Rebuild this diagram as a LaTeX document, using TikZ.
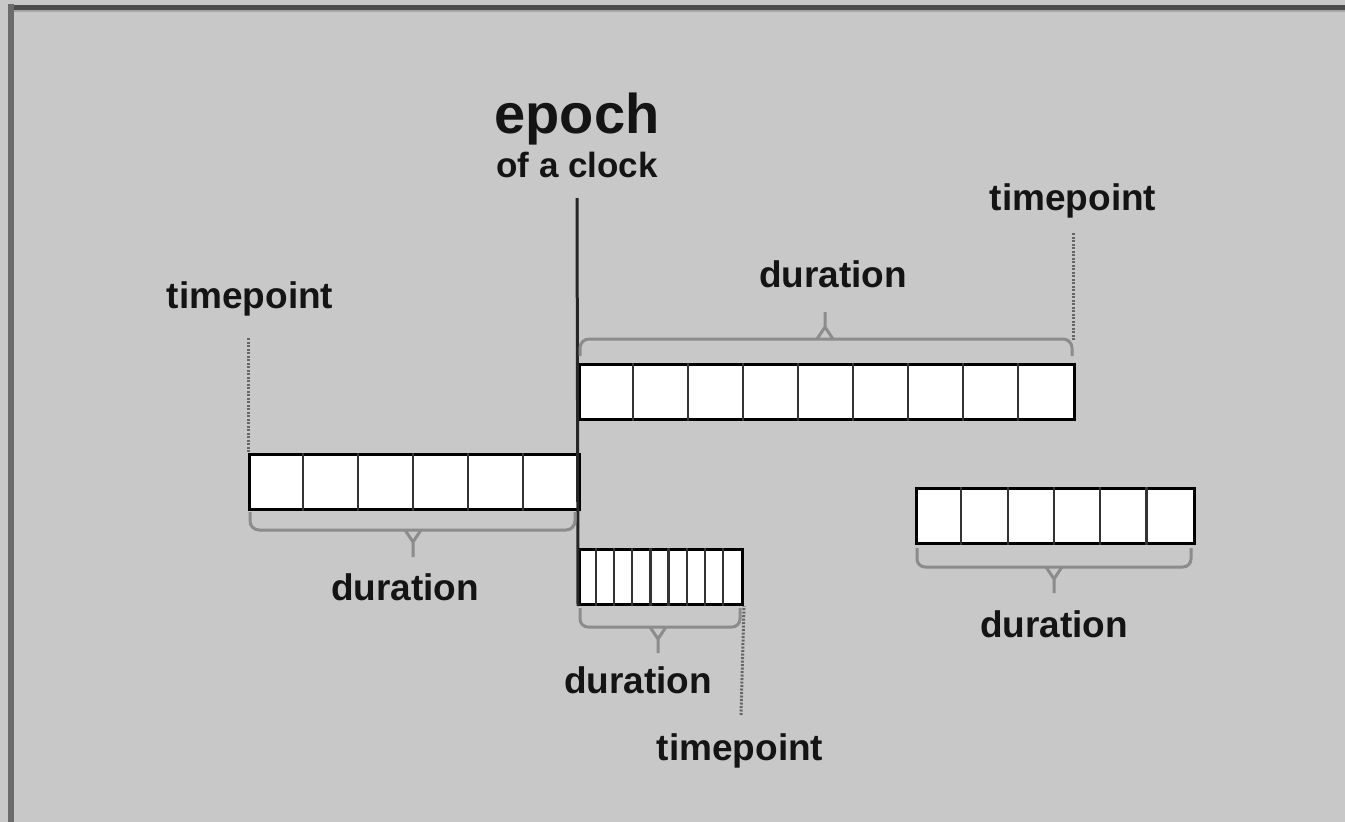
\documentclass[tikz,border=0pt]{standalone}
\usepackage{fontspec}
\setmainfont{Liberation Sans}
\usetikzlibrary{calc}
\begin{document}
\begin{tikzpicture}[x=1pt,y=-1pt,
  lbl/.style={font=\fontsize{37}{40}\selectfont\bfseries, text=black!92, anchor=base, inner sep=0pt},
  cellbox/.style={draw=black, line width=3pt, fill=white, anchor=north west, inner sep=0pt, minimum height=55pt},
  celline/.style={draw=black!80, line width=2.2pt},
  bracestyle/.style={draw=black!45, line width=3pt},
  dotline/.style={draw=black!60, line width=3pt, dash pattern=on 2pt off 1.5pt},
  epochline/.style={draw=black!85, line width=3pt}]
\useasboundingbox (0,0) rectangle (1345,822);
\fill[black!21.5] (0,0) rectangle (1345,822);
% frame
\draw[black!70, line width=5pt] (8,7) -- (1345,7);
\draw[black!58, line width=6pt] (11,4) -- (11,822);
\draw[black!35, line width=2pt] (14,11) -- (1345,11);
% epoch
\node[lbl, font=\fontsize{56}{60}\selectfont\bfseries] (epoch) at (577,133) {epoch};
\node[lbl, font=\fontsize{35}{38}\selectfont\bfseries] (clock) at (577,177) {of a clock};
% boxes
\node[cellbox, minimum width=495pt] (top) at (578,363) {};
\foreach \i in {1,...,8} \draw[celline] ($(top.north west)+(\i*55,0)$) -- ($(top.south west)+(\i*55,0)$);
\node[cellbox, minimum width=330pt] (left) at (248,453) {};
\foreach \i in {1,...,5} \draw[celline] ($(left.north west)+(\i*55,0)$) -- ($(left.south west)+(\i*55,0)$);
\node[cellbox, minimum width=163pt] (small) at (578,548) {};
\foreach \i in {1,...,8} \draw[celline] ($(small.north west)+(\i*18.1,0)$) -- ($(small.south west)+(\i*18.1,0)$);
\node[cellbox, minimum width=278pt] (right) at (915,487) {};
\foreach \i in {1,...,5} \draw[celline] ($(right.north west)+(\i*46.3,0)$) -- ($(right.south west)+(\i*46.3,0)$);
% epoch line
\coordinate (etop) at (577,198);
\draw[epochline] (etop) -- (small.south west);
% labels
\node[lbl] (tpR) at (1073,210) {timepoint};
\node[lbl] (durT) at (833,287) {duration};
\node[lbl] (tpL) at (250,308) {timepoint};
\node[lbl] (durL) at (405,600) {duration};
\node[lbl] (durS) at (638,693) {duration};
\node[lbl] (tpB) at (740,760) {timepoint};
\node[lbl] (durR) at (1054,637) {duration};
% dotted timepoint lines
\coordinate (dR) at (1073,233);
\coordinate (dRe) at (1073,340);
\draw[dotline] (dR) -- (dRe);
\coordinate (dL) at (248,338);
\draw[dotline] (dL) -- (left.north west);
\coordinate (dB) at (741,715);
\draw[dotline] (dB) -- (small.south east);
% braces
\draw[bracestyle, rounded corners=9pt] (580,356) -- (580,339) -- (1072,339) -- (1072,356);
\draw[bracestyle] (817,339) -- (825,327) -- (833,339) (825,327) -- (825,312);
\draw[bracestyle, rounded corners=9pt] (250,512) -- (250,530) -- (575,530) -- (575,512);
\draw[bracestyle] (405,530) -- (413,542) -- (421,530) (413,542) -- (413,557);
\draw[bracestyle, rounded corners=8pt] (580,608) -- (580,627) -- (740,627) -- (740,608);
\draw[bracestyle] (650,627) -- (658,639) -- (666,627) (658,639) -- (658,653);
\draw[bracestyle, rounded corners=8pt] (917,548) -- (917,567) -- (1191,567) -- (1191,548);
\draw[bracestyle] (1046,567) -- (1054,579) -- (1062,567) (1054,579) -- (1054,593);
\end{tikzpicture}
\end{document}
